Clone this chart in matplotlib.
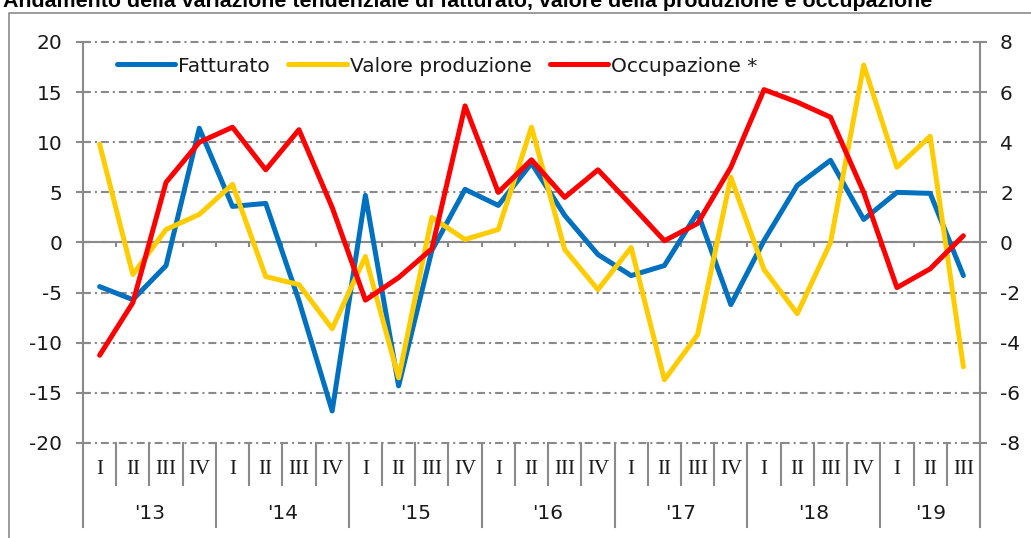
import matplotlib
matplotlib.use('Agg')
import matplotlib.pyplot as plt
from matplotlib.lines import Line2D
import numpy as np

plt.rcParams['axes.unicode_minus'] = False

# Data (quarterly, 2013 I - 2019 III)
quarters = ['I', 'II', 'III', 'IV'] * 6 + ['I', 'II', 'III']
years = ["'13", "'14", "'15", "'16", "'17", "'18", "'19"]

fatturato = [-4.4, -5.7, -2.3, 11.4, 3.6, 3.9, -5.8, -16.8, 4.7, -14.3, -0.8, 5.3, 3.7, 7.9,
             2.7, -1.2, -3.3, -2.3, 3.0, -6.2, 0.2, 5.7, 8.2, 2.3, 5.0, 4.9, -3.3]
valore = [9.8, -3.2, 1.3, 2.8, 5.8, -3.4, -4.2, -8.6, -1.4, -13.5, 2.5, 0.3, 1.3, 11.5,
          -0.7, -4.7, -0.5, -13.7, -9.2, 6.5, -2.7, -7.1, 0.0, 17.7, 7.5, 10.6, -12.4]
occupazione = [-4.5, -2.4, 2.4, 4.0, 4.6, 2.9, 4.5, 1.4, -2.3, -1.4, -0.25, 5.45, 2.0, 3.3,
               1.8, 2.9, 1.5, 0.07, 0.76, 3.0, 6.1, 5.6, 5.0, 2.0, -1.8, -1.05, 0.27]

title = 'Andamento della variazione tendenziale di fatturato, valore della produzione e occupazione'

# Style
W, H = 1031, 538
GREY = '#8a8a8a'
TXT = '#1a1a1a'
SANS = 'DejaVu Sans'
FS = 14.5
LW = 3.6

fig = plt.figure(figsize=(W / 100, H / 100), dpi=100)
ax = fig.add_axes([83 / W, (H - 443) / H, 897 / W, 401 / H])
ax2 = ax.twinx()

x = np.arange(len(fatturato))
l1, = ax.plot(x, fatturato, color='#0070C0', lw=LW, solid_capstyle='round', zorder=3)
l2, = ax.plot(x, valore, color='#FFCC00', lw=LW, solid_capstyle='round', zorder=4)
l3, = ax2.plot(x, occupazione, color='#FF0000', lw=LW, solid_capstyle='round', zorder=5)

ax.set_xlim(-0.5, len(x) - 0.5)
ax.set_ylim(-20, 20)
ax2.set_ylim(-8, 8)
ax.set_yticks(range(-20, 21, 5))
ax2.set_yticks(range(-8, 9, 2))

# Dash-dot grid
ax.set_axisbelow(True)
ax.yaxis.grid(True, color=GREY, lw=1.5, linestyle=(0, (3.8, 1.9, 1.0, 1.9)))
for ln in ax.get_ygridlines():
    ln.set_clip_on(False)

# Spines
ax.spines['top'].set_visible(False)
ax.spines['right'].set_visible(False)
ax.spines['bottom'].set_position(('data', 0))
for s in ['left', 'bottom']:
    ax.spines[s].set_color(GREY)
    ax.spines[s].set_linewidth(1.5)
for s in ['top', 'bottom', 'left']:
    ax2.spines[s].set_visible(False)
ax2.spines['right'].set_color(GREY)
ax2.spines['right'].set_linewidth(1.5)

# Ticks
ax.set_xticks(np.arange(-0.5, len(x), 1))
ax.tick_params(axis='x', direction='out', length=3.6, width=1.5, color=GREY, labelbottom=False)
ax.tick_params(axis='y', direction='inout', length=10, width=1.5, color=GREY, pad=10,
               labelsize=FS, labelcolor=TXT)
ax2.tick_params(axis='y', direction='inout', length=10, width=1.5, color=GREY, pad=9.4,
                labelsize=FS, labelcolor=TXT)
for lab in ax.get_yticklabels() + ax2.get_yticklabels():
    lab.set_family(SANS)

# Category axis below the plot
trans = ax.get_xaxis_transform()
starts = [i for i, q in enumerate(quarters) if q == 'I']
ends = starts[1:] + [len(quarters)]
for b in np.arange(-0.5, len(x), 1):
    depth = 0.2095 if (b + 0.5) in starts or b == len(x) - 0.5 else 0.1047
    ax.plot([b, b], [0, -depth], transform=trans, color=GREY, lw=1.5, clip_on=False)
for i, q in enumerate(quarters):
    ax.text(i, -0.065, q, transform=trans, ha='center', va='center',
            family='Liberation Serif', fontsize=15, color=TXT)
for y, s, e in zip(years, starts, ends):
    ax.text((s + e - 1) / 2, -0.175, y, transform=trans, ha='center', va='center',
            family=SANS, fontsize=FS, color=TXT)

# Legend
ax2.legend([l1, l2, l3], ['Fatturato', 'Valore produzione', 'Occupazione *'],
           loc='center left', bbox_to_anchor=(117 / W, 1 - 66 / H), bbox_transform=fig.transFigure,
           ncol=3, frameon=False, borderpad=0, borderaxespad=0, handlelength=2.9,
           handletextpad=0.15, columnspacing=0.9, prop={'family': SANS, 'size': FS},
           labelcolor=TXT)

# Title (cut at the top, as in the source) and outer frame
fig.text(3 / W, 1 - 7 / H, title, fontweight='bold', fontsize=15.4, va='baseline',
         family='Liberation Sans', color='black')
fig.add_artist(Line2D([8.5 / W, 8.5 / W, 1], [0, 1 - 12.5 / H, 1 - 12.5 / H],
                      color=GREY, lw=1.2))

fig.savefig('out.png', dpi=100)
